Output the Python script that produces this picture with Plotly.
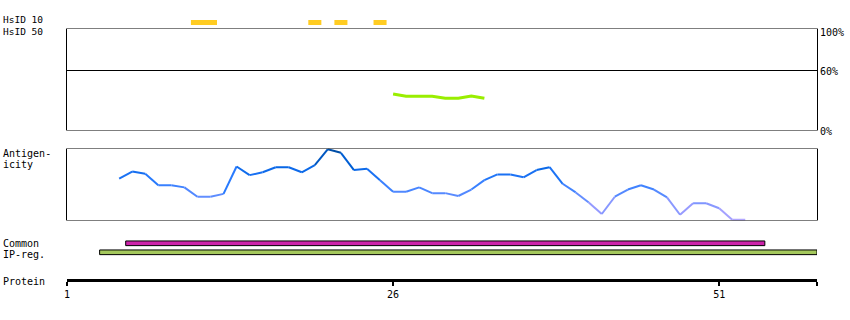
import plotly.graph_objects as go

W, H = 850, 320
L, R = 67, 817  # plot area pixels

# ---------------- data ----------------
protein_length_end = 58.5
protein_ticks = [1, 26, 51]

hsid10_start = [11, 20, 22, 25]
hsid10_end = [12, 20, 22, 25]

hsid50_res = [26, 27, 28, 29, 30, 31, 32, 33]
hsid50_pct = [36.5, 34.2, 34.2, 34.2, 32.2, 32.2, 34.5, 32.2]

antig_res = list(range(5, 54))
antig_val = [0.58, 0.68, 0.65, 0.49, 0.49, 0.46, 0.33, 0.33, 0.37, 0.75,
             0.63, 0.67, 0.74, 0.74, 0.67, 0.77, 0.99, 0.94, 0.70, 0.72,
             0.56, 0.40, 0.40, 0.46, 0.38, 0.38, 0.34, 0.43, 0.56, 0.64,
             0.64, 0.60, 0.70, 0.74, 0.51, 0.39, 0.25, 0.09, 0.33, 0.43,
             0.49, 0.43, 0.32, 0.08, 0.24, 0.24, 0.17, 0.01, 0.01]

region_names = ["Common", "IP-reg."]
region_start = [6, 4]
region_end = [54, 58]
region_colors = ["#cc22aa", "#a4c85c"]

pct_ticks = [100, 60, 0]

# ---------------- helpers ----------------
def frac(py0, py1):
    """pixel rows (top, bottom) -> paper domain"""
    return [1 - py1 / H, 1 - py0 / H]

def hex2rgb(h):
    h = h.lstrip("#")
    return [int(h[i:i + 2], 16) for i in (0, 2, 4)]

stops = [(0.0, "#b4a8ff"), (0.15, "#9a9cff"), (0.35, "#5c8cff"),
         (0.55, "#2a7bff"), (0.78, "#0062e0"), (1.0, "#004a9c")]

def colour(v):
    for (a, ca), (b, cb) in zip(stops[:-1], stops[1:]):
        if v <= b:
            t = (v - a) / (b - a)
            c1, c2 = hex2rgb(ca), hex2rgb(cb)
            return "rgb(%d,%d,%d)" % tuple(round(c1[i] + (c2[i] - c1[i]) * t) for i in range(3))
    return stops[-1][1]

FONT = "DejaVu Sans Mono"
fig = go.Figure()

# HsID 10 bars
fig.add_trace(go.Bar(
    orientation="h", y=[0] * len(hsid10_start),
    base=[s - 0.5 for s in hsid10_start],
    x=[e - s + 1 for s, e in zip(hsid10_start, hsid10_end)],
    width=1, marker=dict(color="#ffcc22", line=dict(width=0)),
    xaxis="x", yaxis="y3", showlegend=False, hoverinfo="skip"))

# HsID 50 line
fig.add_trace(go.Scatter(
    x=hsid50_res, y=hsid50_pct, mode="lines",
    line=dict(color="#99ee00", width=3), xaxis="x", yaxis="y2",
    showlegend=False, hoverinfo="skip"))

# Antigenicity segments
for i in range(len(antig_res) - 1):
    v = (antig_val[i] + antig_val[i + 1]) / 2
    fig.add_trace(go.Scatter(
        x=antig_res[i:i + 2], y=antig_val[i:i + 2], mode="lines",
        line=dict(color=colour(v), width=2), xaxis="x", yaxis="y4",
        showlegend=False, hoverinfo="skip"))

# Region bars
fig.add_trace(go.Bar(
    orientation="h", y=[1, 0],
    base=[s - 0.5 for s in region_start],
    x=[e - s + 1 for s, e in zip(region_start, region_end)],
    width=0.52, marker=dict(color=region_colors, line=dict(color="black", width=1)),
    xaxis="x", yaxis="y5", showlegend=False, hoverinfo="skip"))

hid = dict(visible=False, fixedrange=True)
fig.update_layout(
    width=W, height=H,
    margin=dict(l=L, r=W - R, t=0, b=0),
    paper_bgcolor="white", plot_bgcolor="white",
    font=dict(family=FONT, size=10, color="black"),
    barmode="overlay",
    xaxis=dict(range=[1, protein_length_end], anchor="free",
               position=1 - 279.5 / H, showline=True, linewidth=3,
               linecolor="black", ticks="outside", ticklen=4, tickwidth=2,
               tickcolor="black",
               tickvals=protein_ticks + [protein_length_end],
               ticktext=[str(t) for t in protein_ticks] + [""],
               showgrid=False, zeroline=False, fixedrange=True,
               tickfont=dict(family=FONT, size=10)),
    yaxis=dict(domain=frac(276, 283), **hid),
    # 1 px per percent, 0 % on row 130.5, frame top on row 28.5 (=102)
    yaxis2=dict(domain=frac(28.5, 130.5), range=[0, 102], anchor="free", position=0, **hid),
    yaxis3=dict(domain=frac(20, 25), range=[-0.5, 0.5], anchor="free", position=0, **hid),
    yaxis4=dict(domain=frac(148.5, 220.5), range=[0, 1], anchor="free", position=0, **hid),
    yaxis5=dict(domain=frac(238.8, 256.8), range=[-0.5, 1.5], anchor="free", position=0, **hid),
)

# panel frames (placed on half pixels so they render crisp)
xl, xr = -0.5 / (R - L), 1 + 0.5 / (R - L)
fig.add_shape(type="rect", xref="paper", yref="y2", x0=xl, x1=xr, y0=0, y1=102,
              line=dict(color="black", width=1))
fig.add_shape(type="line", xref="paper", yref="y2", x0=xl, x1=xr, y0=60, y1=60,
              line=dict(color="black", width=1))
fig.add_shape(type="rect", xref="paper", yref="y4", x0=xl, x1=xr, y0=0, y1=1,
              line=dict(color="black", width=1))

def label(text, py, px=1, size=10):
    fig.add_annotation(text=text, xref="paper", yref="paper",
                       x=(px - L) / (R - L), y=1 - py / H, xanchor="left",
                       yanchor="middle", showarrow=False,
                       font=dict(family=FONT, size=size, color="black"))

label("HsID 10", 19.5, size=9.5)
label("HsID 50", 31, size=9.5)
label("Antigen-", 153)
label("icity", 164.5)
label("Common", 243)
label("IP-reg.", 254.5)
label("Protein", 281)

for v in pct_ticks:
    fig.add_annotation(text=f"{v}%", xref="paper", yref="y2", x=1, y=v,
                       xanchor="left", yanchor="middle", xshift=1,
                       yshift=-1.5 if v == 100 else -0.5, showarrow=False,
                       font=dict(family=FONT, size=10, color="black"))

fig.write_html("out.html", config=dict(displayModeBar=False, staticPlot=True))
